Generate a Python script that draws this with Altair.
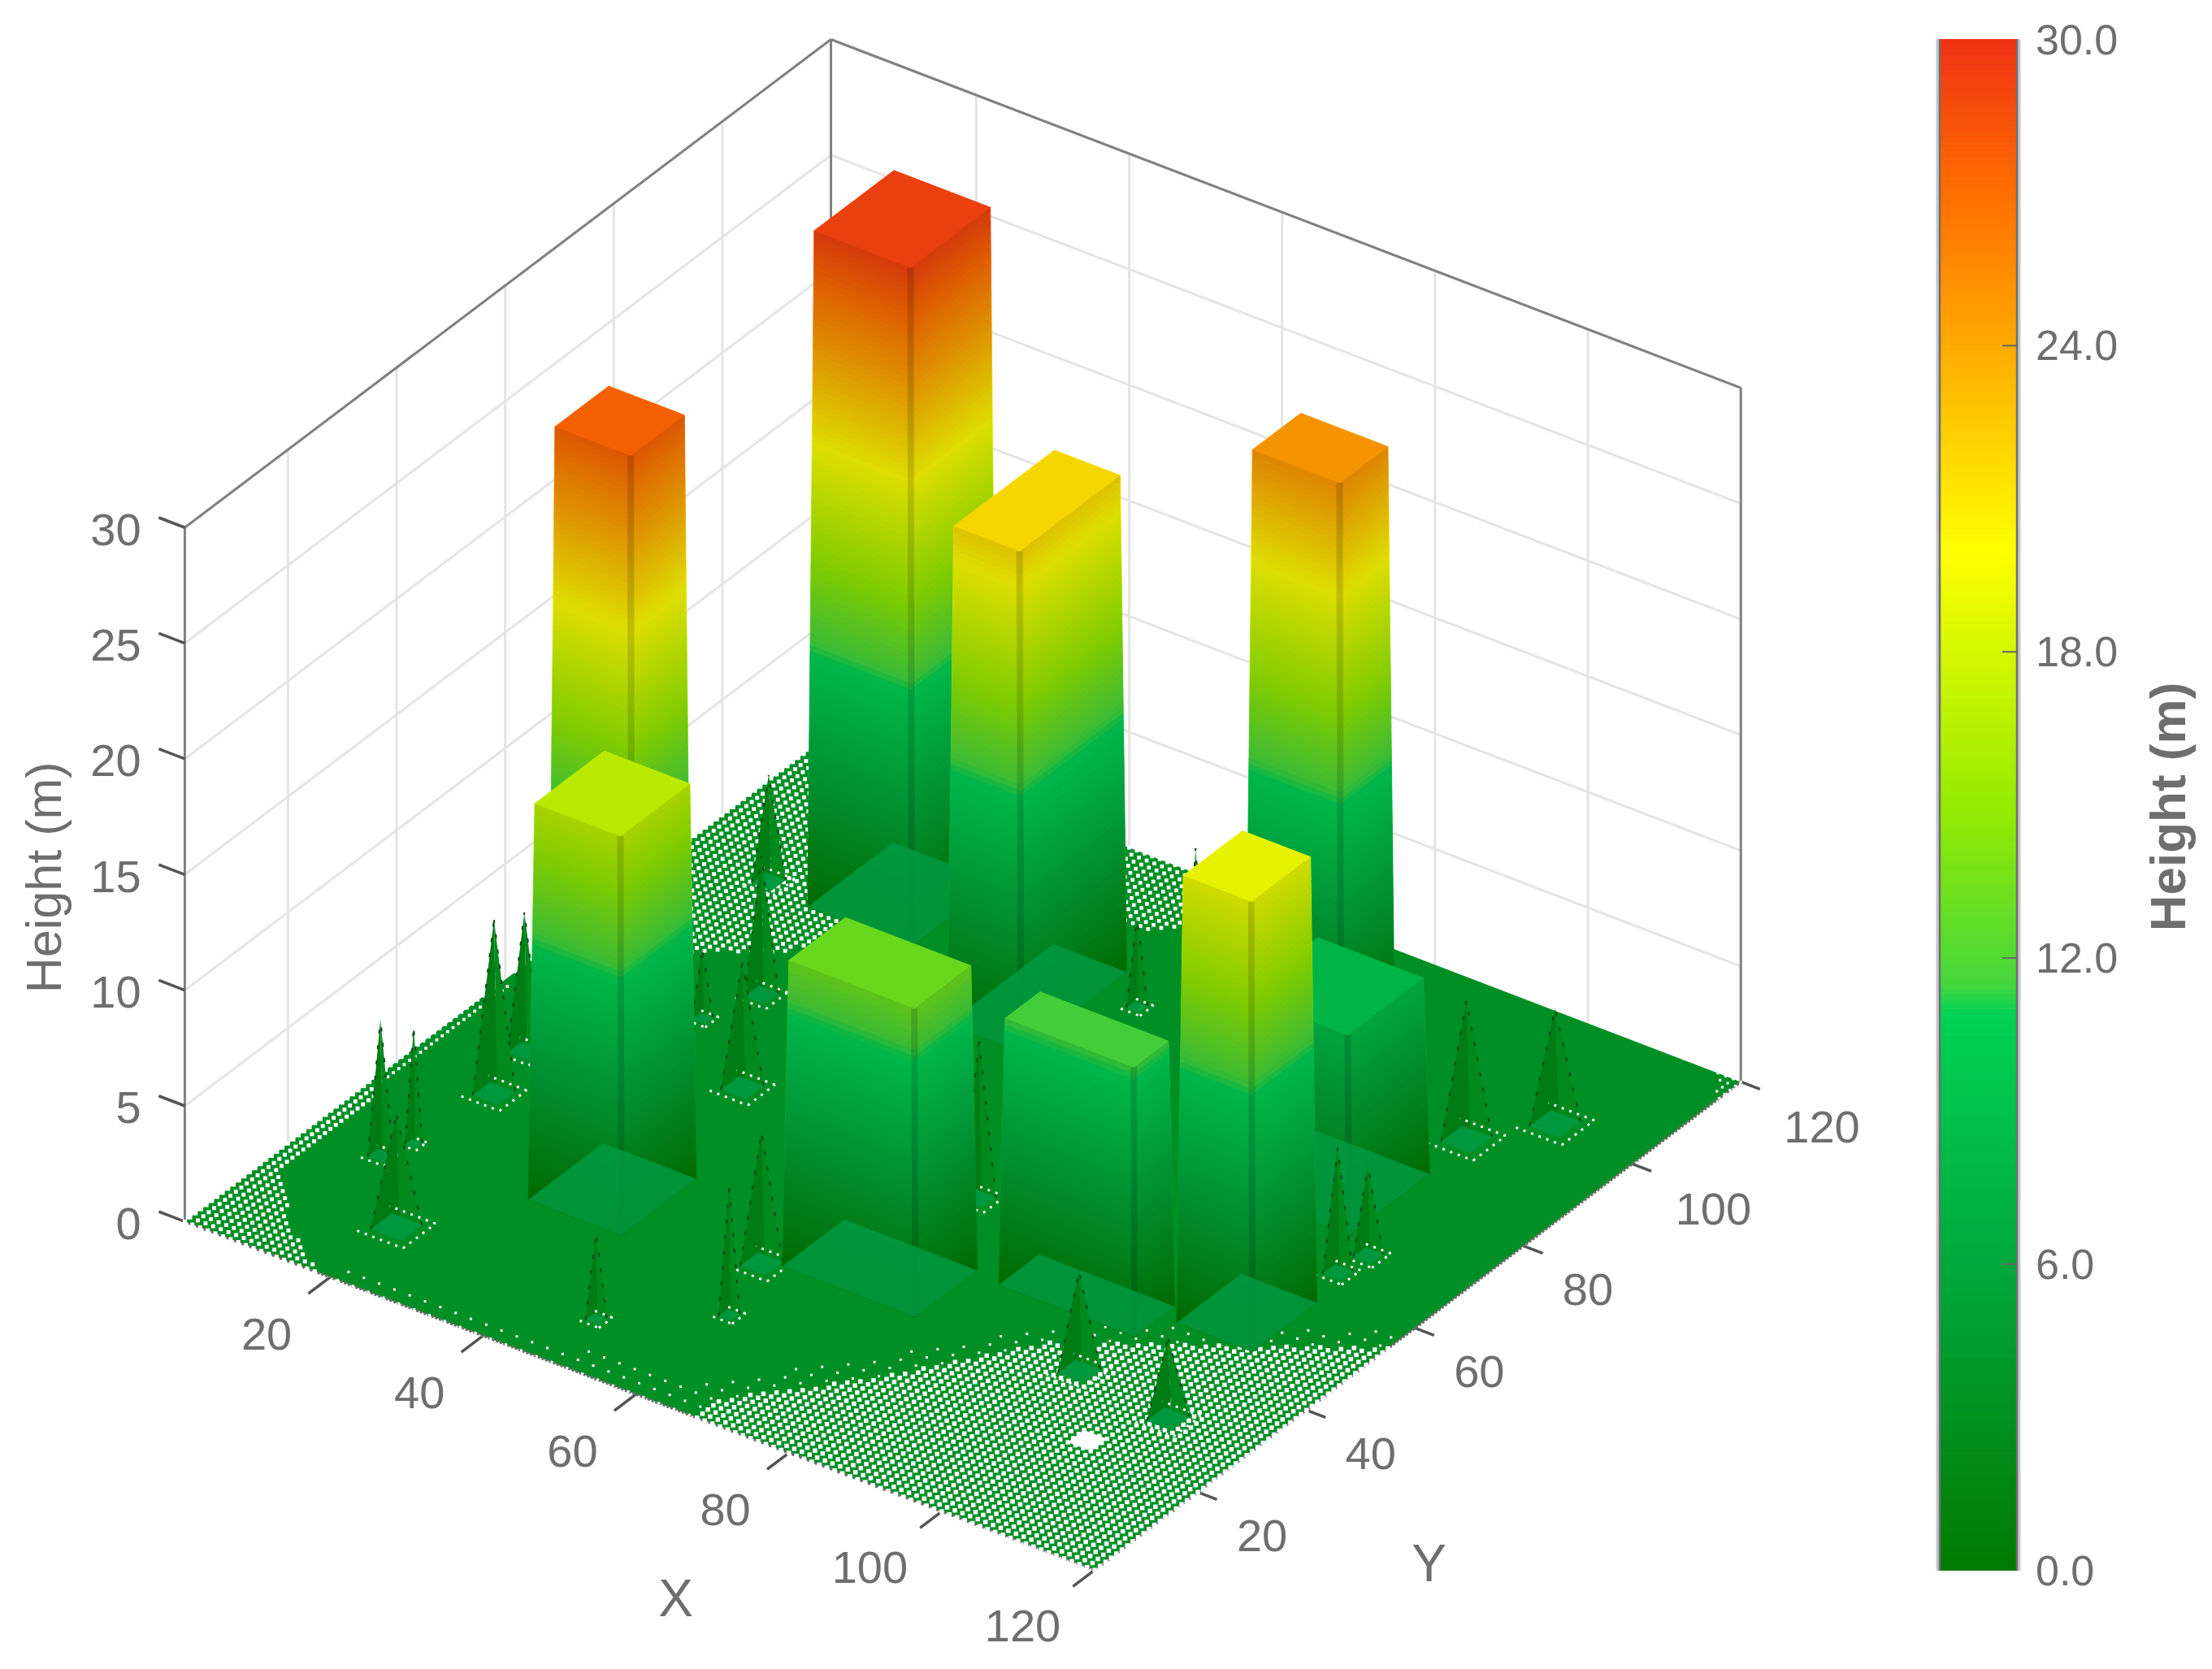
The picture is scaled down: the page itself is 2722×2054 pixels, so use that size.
import altair as alt

alt.data_transformers.disable_max_rows()

# ---- values ----
b_name = ["A", "B", "C", "D", "E", "F", "G", "H", "I"]
b_x0 = [28.3, 18.9, 14.4, 44.5, 70.4, 98.7, 88.8, 58, 78.9]
b_x1 = [40.5, 32.5, 25.3, 54.1, 82.8, 108.6, 103.6, 75.4, 96.7]
b_y0 = [25.8, 90.5, 49.1, 80.2, 98.7, 46.1, 70.9, 30.8, 41.2]
b_y1 = [39.6, 106.2, 60, 99.7, 108.6, 58, 85.8, 42.2, 48.6]
b_h = [17.1, 29.2, 27.5, 21.5, 24.8, 19.3, 8.5, 13.2, 11.5]

s_x = [20, 10.4, 11.9, 13.1, 10.9, 47.9, 59, 55.9, 34, 12.6, 25, 22.6, 59, 95.8, 109, 106.9, 107.6, 102.8, 108.7, 67.3, 60.2]
s_y = [13.2, 23.8, 27.8, 40.9, 49.6, 10.7, 19.6, 29.9, 57.2, 92.2, 73.4, 65.9, 94.7, 32.2, 30, 64.2, 68.8, 93.7, 101.7, 53.9, 103.8]
s_h = [4.9, 5.9, 5, 7.5, 6, 3.8, 5.5, 5.7, 5.4, 4.6, 6, 3, 3.9, 4.3, 3.5, 5.4, 3.9, 6, 5, 6.8, 5.4]
s_w = [6, 3, 2, 5, 4, 2.5, 2.5, 5, 5, 4, 4, 2.5, 2.5, 5, 5, 3.5, 3.5, 6, 6, 4, 2]

cmap_v = [0, 6, 10.9, 11.5, 15, 20, 24, 27, 30]
cmap_c = ["#007a00", "#00a83c", "#00d255", "#46d73c", "#96eb00", "#ffff00", "#ffaa00", "#ff6e00", "#f03214"]

x_ticks = [20, 40, 60, 80, 100, 120]
y_ticks = [20, 40, 60, 80, 100, 120]
z_ticks = [0, 5, 10, 15, 20, 25, 30]
cb_ticks = [0, 6, 12, 18, 24, 30]

# mesh gaps of the surface: region outline (x, y), white dot size, step
holes = [
    ([(68, 0), (68, 5.8), (79, 18.6), (89.6, 34.9), (121, 56), (121, 0)], 30, 1),
    ([(68, 5.8), (79, 18.6), (89.6, 34.9), (121, 56), (121, 60), (88, 38), (76, 21), (64, 7)], 9, 2),
    ([(0, 0), (20, 0), (11, 6.5), (4, 15), (3, 35), (0, 40)], 24, 1),
    ([(0, 40), (3, 35), (3, 60), (0, 60)], 14, 1),
    ([(0, 60), (15, 77), (22, 81), (26, 90), (20, 121), (0, 121)], 24, 1),
    ([(35, 121), (60, 121), (52, 108), (40, 108)], 22, 1),
    ([(20, 0), (68, 0), (68, 5.8), (50, 5), (20, 4)], 9, 2),
    ([(116, 121), (121, 121), (121, 114)], 10, 1),
]

GREY = "#6e6e6e"
FONT = "Liberation Sans"
K = 2722 / 1568
INSET = 0.5


def D(a, b):
    return [a * K - 8, b * K - 8]


def P(x, y, z=0):
    return D(131 + 5.42 * (x - 1) + 3.849 * (y - 1), 866 + 2.076 * (x - 1) - 2.908 * (y - 1) - 16.4 * z)


PROJ = dict(type="identity", scale=1, translate=[0, 0])


def poly(pts, **props):
    ring = [list(p) for p in pts]
    ring.append(ring[0])
    return {"type": "Feature", "geometry": {"type": "Polygon", "coordinates": [ring]}, "properties": props}


def seg(a, b):
    return {"type": "Feature", "geometry": {"type": "LineString", "coordinates": [list(a), list(b)]}, "properties": {}}


cscale = alt.Scale(domain=cmap_v, range=cmap_c, interpolate="rgb", clamp=True)


def scaled_layer(features):
    return alt.Chart(alt.InlineData(values=features)).mark_geoshape(strokeWidth=1).project(**PROJ).encode(
        color=alt.Color("properties.z:Q", scale=cscale, legend=None),
        stroke=alt.Stroke("properties.z:Q", scale=cscale, legend=None),
    )


def fixed_layer(features):
    return alt.Chart(alt.InlineData(values=features)).mark_geoshape(strokeWidth=0).project(**PROJ).encode(
        fill=alt.Fill("properties.fill:N", scale=None),
        fillOpacity=alt.FillOpacity("properties.op:Q", scale=None),
    )


def line_layer(features, color, width, dash=None):
    kw = dict(filled=False, stroke=color, strokeWidth=width)
    if dash:
        kw["strokeDash"] = dash
    return alt.Chart(alt.InlineData(values=features)).mark_geoshape(**kw).project(**PROJ)


def text_layer(rows, size, align="center", angle=0, weight="normal"):
    return alt.Chart(alt.InlineData(values=rows)).mark_text(
        font=FONT, fontSize=size, color=GREY, align=align, baseline="middle", angle=angle, fontWeight=weight
    ).project(**PROJ).encode(
        longitude="px:Q", latitude="py:Q", text="t:N"
    )


def inside(px, py, pts):
    c = False
    n = len(pts)
    for i in range(n):
        x1, y1 = pts[i]
        x2, y2 = pts[(i + 1) % n]
        if (y1 > py) != (y2 > py) and px < (x2 - x1) * (py - y1) / (y2 - y1) + x1:
            c = not c
    return c


layers = []

# colour bar drawn from the colour scale
cb_top, cb_bot = 48.6 - 8, 1932.6 - 8
cb_l, cb_r = 2385 - 8, 2484 - 8
cb_y = lambda v: cb_bot + (cb_top - cb_bot) * v / 30
cb_n = 300
cb_bands = []
for k in range(cb_n):
    v0, v1 = 30 * k / cb_n, 30 * (k + 1) / cb_n
    cb_bands.append(poly([[cb_l, cb_y(v0)], [cb_r, cb_y(v0)], [cb_r, cb_y(v1)], [cb_l, cb_y(v1)]], z=(v0 + v1) / 2))
layers.append(scaled_layer(cb_bands))
layers.append(line_layer([seg([cb_l, cb_top], [cb_l, cb_bot]), seg([cb_r, cb_top], [cb_r, cb_bot])], "#c4c8cc", 5))
layers.append(line_layer([seg([cb_l + 2, cb_top], [cb_l + 2, cb_bot]), seg([cb_r - 2, cb_top], [cb_r - 2, cb_bot])], "#6e6e6e", 2.5))
layers.append(line_layer([seg([cb_r - 20, cb_y(v)], [cb_r - 2, cb_y(v)]) for v in cb_ticks[1:-1]], "#666666", 2))

# grid and frame
grid = []
for v in z_ticks[1:]:
    grid.append(seg(P(1, 1, v), P(1, 120, v)))
    grid.append(seg(P(1, 120, v), P(120, 120, v)))
for v in y_ticks[:-1]:
    grid.append(seg(P(1, v, 0), P(1, v, 30)))
for v in x_ticks[:-1]:
    grid.append(seg(P(v, 120, 0), P(v, 120, 30)))
layers.append(line_layer(grid, "#e4e4e4", 3))
frame = [
    seg(P(1, 1, 0), P(1, 1, 30)), seg(P(1, 1, 30), P(1, 120, 30)), seg(P(1, 120, 30), P(120, 120, 30)),
    seg(P(120, 120, 0), P(120, 120, 30)), seg(P(1, 120, 0), P(1, 120, 30)),
]
layers.append(line_layer(frame, "#808080", 3))

# ticks
ticks = [seg(P(v, 1), P(v, -3)) for v in x_ticks]
ticks += [seg(P(120, v), P(122.5, v)) for v in y_ticks]
ticks += [seg(P(1, 1, v), P(-2.4, 1, v)) for v in z_ticks]
layers.append(line_layer(ticks, "#555555", 3.5))

# floor
layers.append(fixed_layer([poly([P(1, 1), P(120, 1), P(120, 120), P(1, 120)], fill="#008f24", op=1)]))
layers.append(line_layer([seg(P(1, 1), P(120, 1)), seg(P(120, 1), P(120, 120))], "#6a6a6a", 3.5, [3, 2]))

# mesh gaps
for pts, size, step in holes:
    rows = []
    for i in range(1, 121, step):
        for j in range(1, 121, step):
            if inside(i + 0.01, j + 0.01, pts):
                p = P(i, j)
                rows.append({"px": p[0], "py": p[1]})
    layers.append(
        alt.Chart(alt.InlineData(values=rows)).mark_point(
            shape="square", filled=True, fill="white", size=size, opacity=1, strokeWidth=0
        ).project(**PROJ).encode(longitude="px:Q", latitude="py:Q")
    )
blob = [(103, 20), (106, 20), (106, 23), (103, 23)]
layers.append(fixed_layer([poly([P(*q) for q in blob], fill="white", op=1)]))


def building(i):
    x0, x1, y0, y1, h = b_x0[i], b_x1[i], b_y0[i], b_y1[i], b_h[i]
    n = max(int(h / 0.25), 1)
    bands, shade = [], []

    def ins(z):
        return INSET * z / h

    for k in range(n):
        z0 = h * k / n
        z1 = h * (k + 1) / n
        a, b = ins(z0), ins(z1)
        mid = (z0 + z1) / 2
        bands.append(poly([P(x0 + a, y0 + a, z0), P(x1 - a, y0 + a, z0), P(x1 - b, y0 + b, z1), P(x0 + b, y0 + b, z1)], z=mid))
        bands.append(poly([P(x1 - a, y0 + a, z0), P(x1 - a, y1 - a, z0), P(x1 - b, y1 - b, z1), P(x1 - b, y0 + b, z1)], z=mid))
    t = INSET
    bands.append(poly([P(x0 + t, y0 + t, h), P(x1 - t, y0 + t, h), P(x1 - t, y1 - t, h), P(x0 + t, y1 - t, h)], z=h))
    shade.append(poly([P(x0, y0), P(x1, y0), P(x1, y1), P(x1 - t, y1 - t, h), P(x1 - t, y0 + t, h), P(x0 + t, y0 + t, h)], fill="#000000", op=0.13))
    shade.append(poly([P(x0 + t, y0 + t, h), P(x1 - t, y0 + t, h), P(x1 - t, y1 - t, h), P(x0 + t, y1 - t, h)], fill="#000000", op=0.04))
    fr = P(x1, y0)
    ft = P(x1 - t, y0 + t, h)
    w = 4
    shade.append(poly([[fr[0] - w, fr[1]], [fr[0] + w, fr[1]], [ft[0] + w, ft[1]], [ft[0] - w, ft[1]]], fill="#000000", op=0.14))
    shade.append(poly([P(x0, y0), P(x1, y0), P(x1, y1), P(x0, y1)], fill="#009a42", op=0.85))
    return [scaled_layer(bands), fixed_layer(shade)]


def spike(i):
    x, y, h, w = s_x[i], s_y[i], s_h[i], s_w[i]
    r = w / 2
    q = r * 0.65
    apex = P(x, y, h)
    faces = [
        poly([P(x - q, y - q), P(x + q, y - q), apex], fill="#007c14", op=1),
        poly([P(x + q, y - q), P(x + q, y + q), apex], fill="#008a1c", op=1),
        poly([P(x - q, y - q), P(x + q, y - q), P(x + q, y + q), P(x - q, y + q)], fill="#009a42", op=0.9),
    ]
    out = [fixed_layer(faces)]
    out.append(line_layer([seg(P(x - q, y - q), apex), seg(P(x + q, y + q), apex)], "#0a4a14", 2, [5, 14]))
    c = [P(x - r, y - r), P(x + r, y - r), P(x + r, y + r), P(x - r, y + r)]
    out.append(line_layer([seg(c[0], c[1]), seg(c[1], c[2]), seg(c[2], c[3])], "#ffffff", 3, [3, 7]))
    return out


objects = []
for i in range(len(b_name)):
    cx, cy = (b_x0[i] + b_x1[i]) / 2, (b_y0[i] + b_y1[i]) / 2
    objects.append((2.058 * cx - 2.883 * cy, "b", i))
for i in range(len(s_x)):
    objects.append((2.058 * s_x[i] - 2.883 * s_y[i], "s", i))
for _, kind, i in sorted(objects):
    layers.extend(building(i) if kind == "b" else spike(i))

# labels
rows = []
for v in x_ticks:
    p = P(v, 1)
    dx, dy = (-45, 41.5) if v < 100 else (-51, 41)
    rows.append({"px": p[0] + dx * K, "py": p[1] + dy * K, "t": str(v)})
for v in y_ticks:
    p = P(120, v)
    dx, dy = (45.5, 32) if v < 100 else (57.5, 33)
    rows.append({"px": p[0] + dx * K, "py": p[1] + dy * K, "t": str(v)})
layers.append(text_layer(rows, 56))
rows = [{"px": P(1, 1, v)[0] - 31 * K, "py": P(1, 1, v)[1] + 2.5 * K, "t": str(v)} for v in z_ticks]
layers.append(text_layer(rows, 56, align="right"))
rows = [{"px": 2505 - 8, "py": cb_y(v) + 2, "t": f"{v:.1f}"} for v in cb_ticks]
layers.append(text_layer(rows, 52, align="left"))

p = D(33, 622)
layers.append(text_layer([{"px": p[0], "py": p[1], "t": "Height (m)"}], 61, angle=270))
p = D(1538, 572)
layers.append(text_layer([{"px": p[0], "py": p[1], "t": "Height (m)"}], 62, angle=270, weight="bold"))
p = D(479, 1135)
q = D(1013, 1110)
layers.append(text_layer([{"px": p[0], "py": p[1], "t": "X"}, {"px": q[0], "py": q[1], "t": "Y"}], 64))

chart = alt.layer(*layers).properties(
    width=2700, height=2030, padding=0, autosize=alt.AutoSizeParams(type="none"), background="white"
).configure_view(stroke=None)

chart.save("out.html", embed_options={"renderer": "svg", "actions": False})
